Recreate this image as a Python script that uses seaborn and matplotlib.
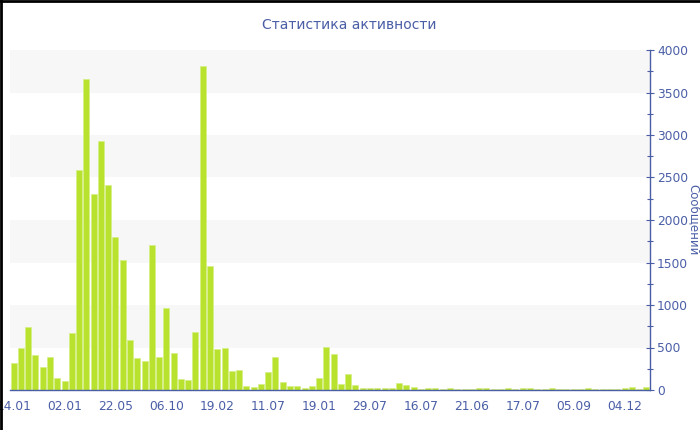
import matplotlib
matplotlib.use('Agg')
import numpy as np
import pandas as pd
import matplotlib.pyplot as plt
import seaborn as sns
from matplotlib.ticker import MultipleLocator

# ===============================
# data
# ===============================
messages = [
    314, 490, 737, 415, 267, 384, 137, 102, 670, 2587,
    3657, 2301, 2928, 2407, 1803, 1525, 584, 376, 341, 1701,
    384, 968, 439, 129, 114, 678, 3810, 1454, 486, 494,
    227, 239, 47, 31, 71, 208, 388, 98, 51, 43,
    24, 43, 141, 506, 420, 67, 188, 55, 24, 20,
    20, 20, 20, 78, 59, 31, 12, 25, 20, 14,
    22, 16, 14, 16, 18, 20, 16, 14, 18, 16,
    20, 20, 16, 14, 22, 16, 14, 16, 14, 20,
    16, 14, 16, 14, 28, 31, 14, 38,
]
tick_labels = ["14.01", "02.01", "22.05", "06.10", "19.02", "11.07", "19.01",
               "29.07", "16.07", "21.06", "17.07", "05.09", "04.12"]
label_step = 7

df = pd.DataFrame({"bar": np.arange(len(messages)), "value": messages})

blue = "#4a5ea6"
bar_color = "#b9e22e"

sns.set_style("white")
plt.rcParams['font.family'] = ['DejaVu Sans']

fig = plt.figure(figsize=(7, 4.3), dpi=100)
ax = fig.add_axes([10 / 700, 40 / 430, 640 / 700, 340 / 430])

# alternating bands
for lo in range(500, 4000, 1000):
    ax.axhspan(lo, lo + 500, color="#f7f7f7", zorder=0, lw=0)

sns.barplot(data=df, x="bar", y="value", color=bar_color, saturation=1,
            width=0.82, edgecolor="#d4ef86", linewidth=0.5, ax=ax, zorder=2)

ax.set_xlim(-0.5, len(messages) - 0.5)
ax.set_ylim(0, 4000)

# x ticks
pos = np.arange(0, len(tick_labels) * label_step, label_step)
ax.set_xticks(pos)
ax.set_xticklabels(tick_labels)
ax.xaxis.set_minor_locator(MultipleLocator(1))
ax.set_xlabel("")

# y axis on the right
ax.yaxis.tick_right()
ax.yaxis.set_label_position("right")
ax.set_yticks(np.arange(0, 4001, 500))
ax.yaxis.set_minor_locator(MultipleLocator(250))
ax.set_ylabel("Сообщений", color=blue, fontsize=8.5, rotation=-90, labelpad=9)

for s in ["top", "left"]:
    ax.spines[s].set_visible(False)
for s in ["right", "bottom"]:
    ax.spines[s].set_color(blue)
    ax.spines[s].set_linewidth(1.0)

ax.tick_params(axis="both", which="major", colors=blue, labelsize=8.8,
               direction="inout", length=6, width=0.8, pad=2)
ax.tick_params(axis="y", which="minor", colors=blue, direction="inout",
               length=4, width=0.8)
ax.tick_params(axis="x", which="minor", colors=blue, direction="in",
               length=2, width=0.6)
ax.tick_params(axis="x", which="major", pad=4)
for lab in ax.get_xticklabels() + ax.get_yticklabels():
    lab.set_color(blue)

fig.text(349 / 700, 1 - 25 / 430, "Статистика активности", color=blue,
         fontsize=10, ha="center", va="center")

# frame lines at the top and left of the image
fig.add_artist(plt.Line2D([0, 1], [1 - 1 / 430, 1 - 1 / 430], color="black", lw=2,
                          transform=fig.transFigure))
fig.add_artist(plt.Line2D([1 / 700, 1 / 700], [0, 1], color="black", lw=2,
                          transform=fig.transFigure))

fig.savefig("out.png", dpi=100)
